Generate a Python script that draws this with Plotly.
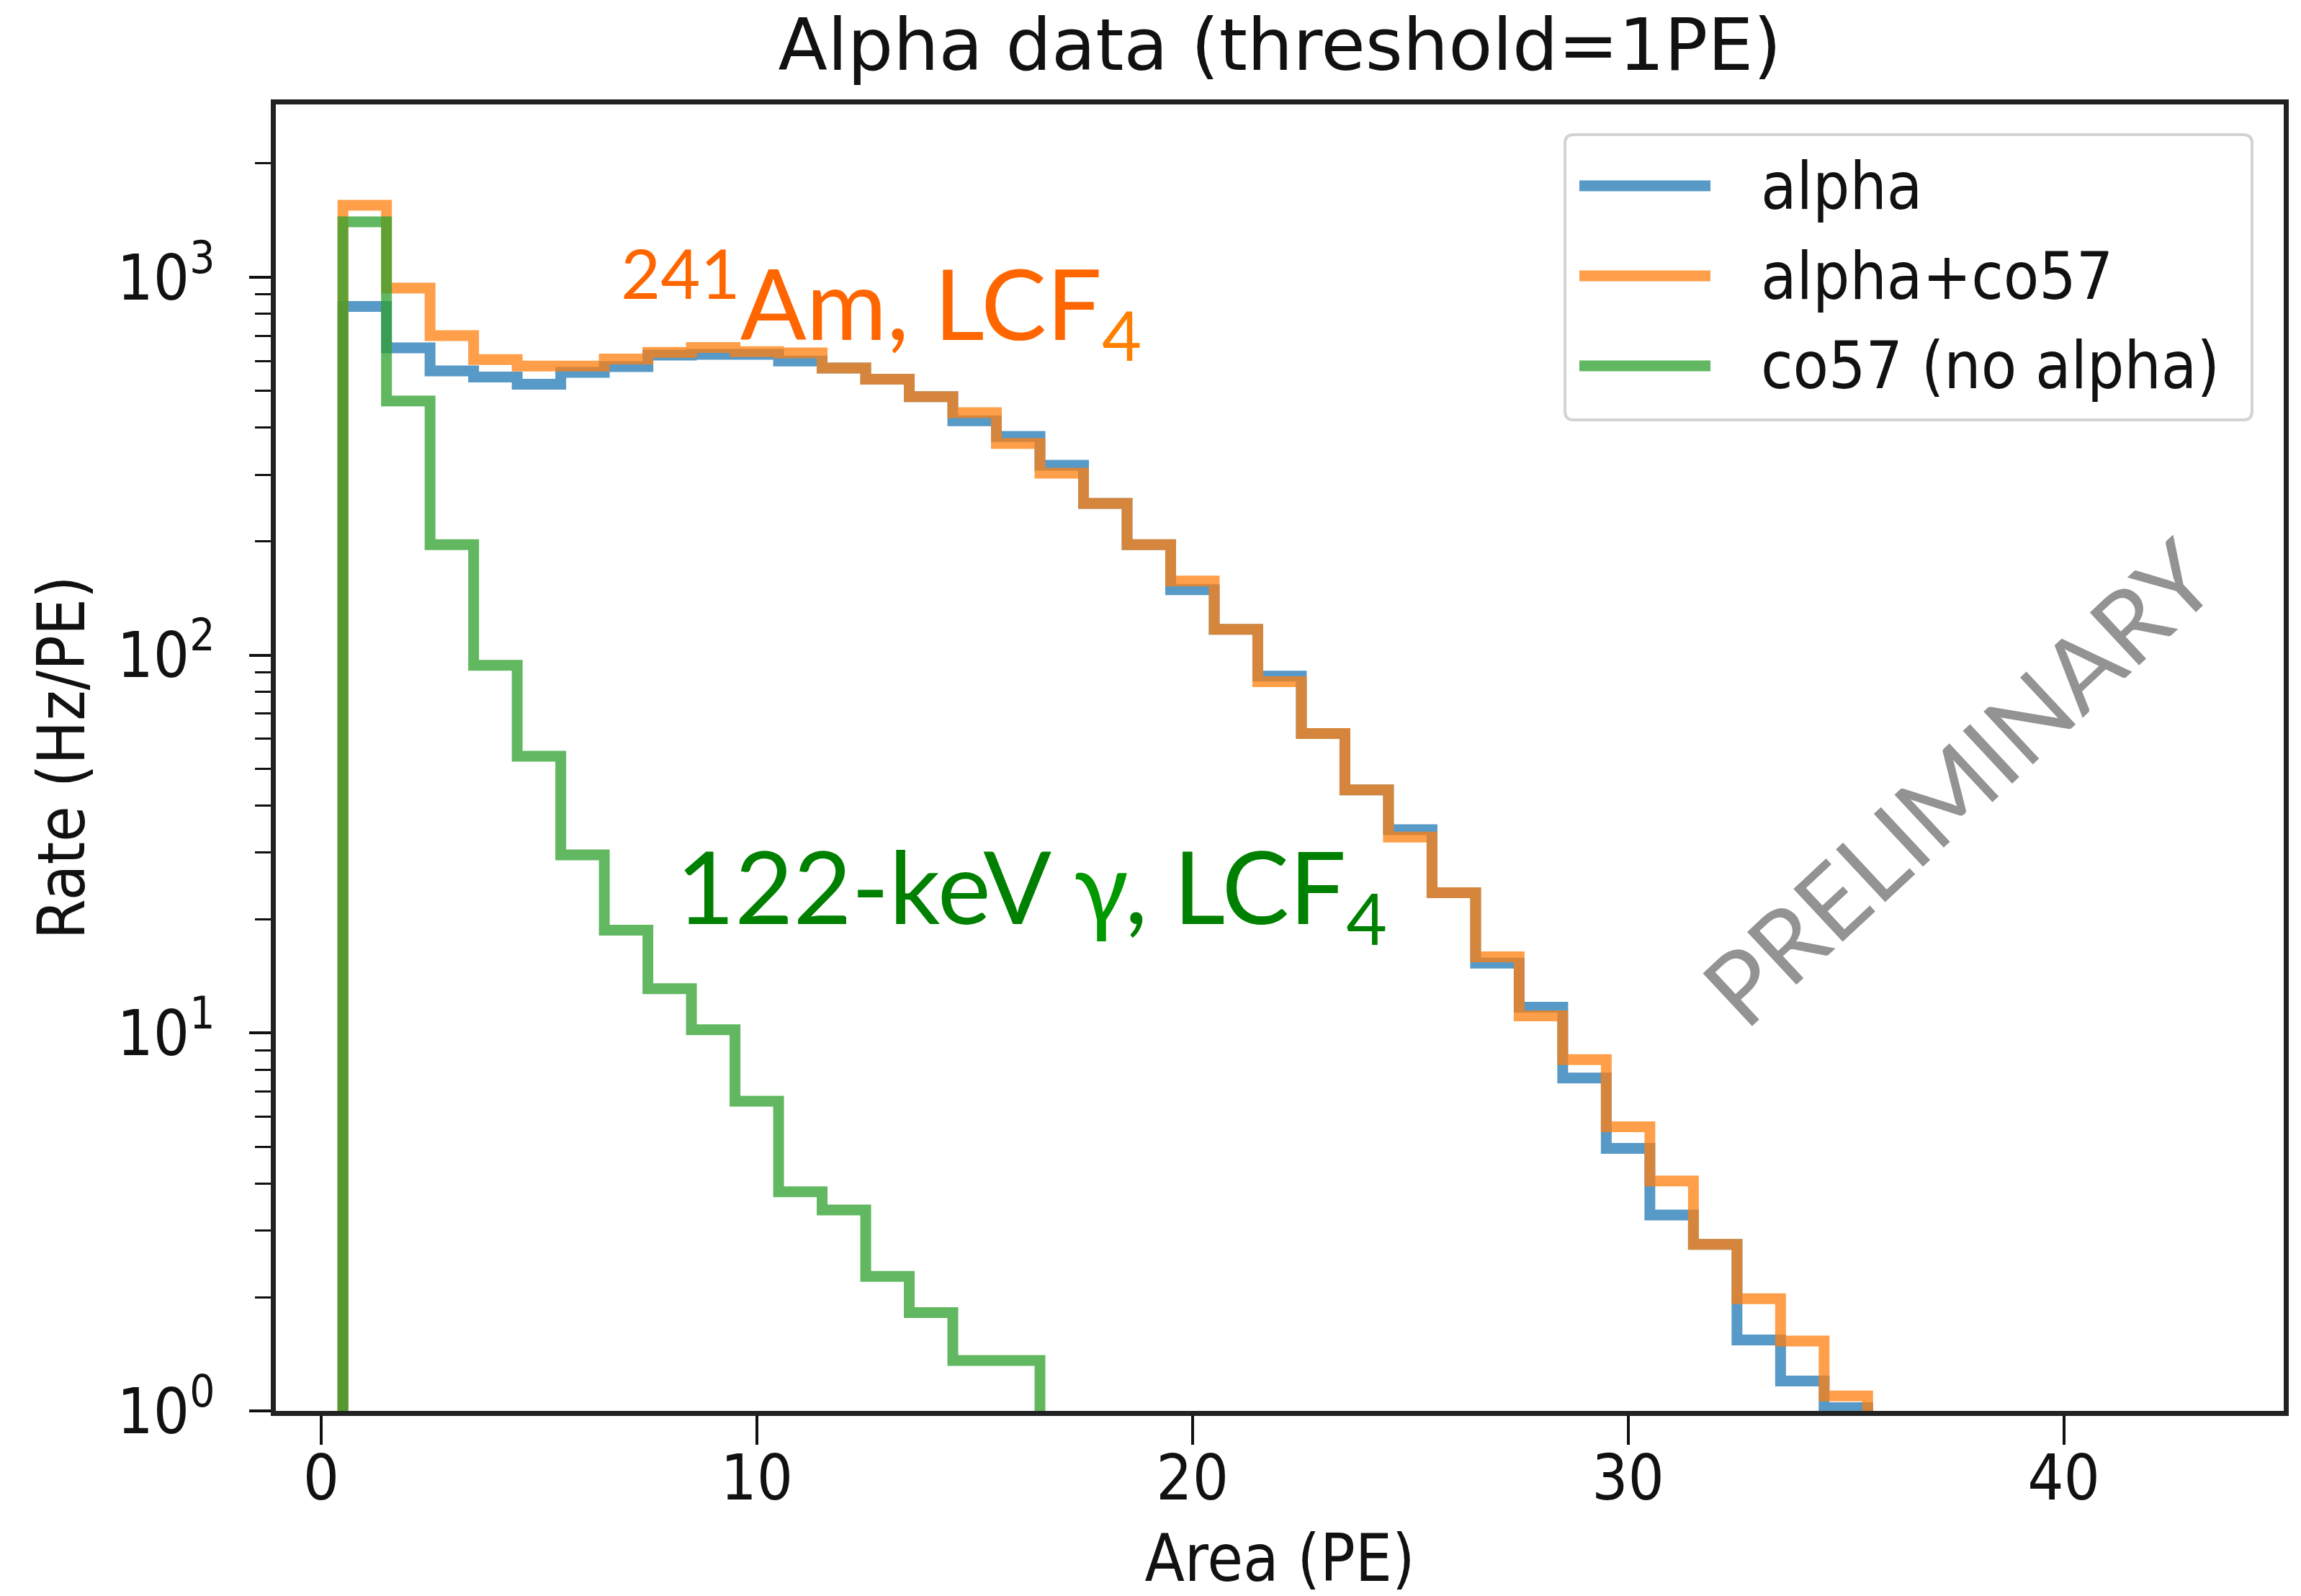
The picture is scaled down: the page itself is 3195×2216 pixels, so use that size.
import plotly.graph_objects as go

# ---------------- data ----------------
BIN_START = 0.5          # first bin edge (PE)
BIN_WIDTH = 1.0          # bin width (PE)

ALPHA = [836, 650, 565, 544, 521, 560, 580, 622, 625, 625, 600, 575, 537, 483,
         417, 379, 318, 252, 196, 149, 117, 88, 62, 44, 34.5, 23.5, 15.3, 11.7,
         7.6, 4.95, 3.30, 2.76, 1.54, 1.20, 1.02]
ALPHA_CO57 = [1550, 935, 700, 605, 582, 582, 607, 632, 651, 635, 630, 575, 537, 483,
              438, 363, 303, 252, 196, 157, 117, 85, 62, 44, 33, 23.5, 15.9, 11.1,
              8.5, 5.65, 4.06, 2.76, 1.98, 1.53, 1.095]
CO57 = [1400, 470, 196, 94, 54, 29.6, 18.7, 13.1, 10.2, 6.6, 3.8, 3.4, 2.27, 1.82,
        1.36, 1.36]

SERIES_NAMES = ["alpha", "alpha+co57", "co57 (no alpha)"]
SERIES_COLORS = ["rgba(31,119,180,0.75)", "rgba(255,127,14,0.75)", "rgba(44,160,44,0.75)"]

X_TICKS = [0, 10, 20, 30, 40]
Y_TICKS = [1, 10, 100, 1000]
Y_TICKTEXT = ["10<sup>0</sup>", "10<sup>1</sup>", "10<sup>2</sup>", "10<sup>3</sup>"]

FLOOR = 0.01  # histogram drops to zero (below the log axis)

# ---------------- geometry ----------------
W, H = 3195, 2216
ML, MR, MT, MB = 383, 24, 145, 257
PW, PH = W - ML - MR, H - MT - MB


def px(xpix):
    return (xpix - ML) / PW


def py(ypix):
    return (H - MB - ypix) / PH


def step_xy(vals):
    edges = [BIN_START + i * BIN_WIDTH for i in range(len(vals) + 1)]
    x = [edges[0]] + edges
    y = [FLOOR] + list(vals) + [FLOOR]
    return x, y


TICK_FONT = "Liberation Sans Narrow, DejaVu Sans Condensed, DejaVu Sans"
LABEL_FONT = "DejaVu Sans Condensed, DejaVu Sans"
CAL_FONT = "Lato, Carlito, Open Sans"

fig = go.Figure()
for name, vals, col in zip(SERIES_NAMES, [ALPHA, ALPHA_CO57, CO57], SERIES_COLORS):
    x, y = step_xy(vals)
    fig.add_trace(go.Scatter(x=x, y=y, mode="lines", name=name,
                             line=dict(color=col, width=15, shape="hv"),
                             showlegend=False, hoverinfo="skip"))

fig.update_layout(
    width=W, height=H,
    margin=dict(l=ML, r=MR, t=MT, b=MB, autoexpand=False),
    plot_bgcolor="white", paper_bgcolor="white",
    showlegend=False,
    title=dict(text="Alpha data (threshold=1PE)", x=0.5, xref="paper", xanchor="center",
               y=1 - 62 / H, yref="container", yanchor="middle",
               font=dict(family="DejaVu Sans", size=100, color="#111")),
    xaxis=dict(range=[-1.04, 45.05], tickmode="array", tickvals=X_TICKS,
               ticks="outside", ticklen=40, tickwidth=4, tickcolor="#111",
               showline=True, linecolor="#222", linewidth=7, mirror=True,
               showgrid=False, zeroline=False, ticklabelstandoff=-30,
               tickfont=dict(family=TICK_FONT, size=88, color="#111"),
               title=dict(text="Area (PE)", standoff=82,
                          font=dict(family=LABEL_FONT, size=90, color="#111"))),
    yaxis=dict(type="log", range=[0, 3.457], tickmode="array", tickvals=Y_TICKS,
               ticktext=Y_TICKTEXT, ticks="outside", ticklen=30, tickwidth=4,
               tickcolor="#111", showline=True, linecolor="#222", linewidth=7,
               mirror=True, showgrid=False, zeroline=False, ticklabelstandoff=30,
               tickfont=dict(family=TICK_FONT, size=88, color="#111"),
               minor=dict(ticks="outside", ticklen=22, tickwidth=3, tickcolor="#111",
                          dtick="D1", showgrid=False),
               title=dict(text="Rate (Hz/PE)", standoff=17,
                          font=dict(family=LABEL_FONT, size=90, color="#111"))),
)

# ---------------- custom legend (matplotlib style) ----------------
bx0, bx1, by0, by1 = px(2173), px(3127), py(583), py(187)
rx, ry = 12 / PW, 12 / PH
legend_path = (f"M {bx0+rx},{by0} L {bx1-rx},{by0} Q {bx1},{by0} {bx1},{by0+ry} "
               f"L {bx1},{by1-ry} Q {bx1},{by1} {bx1-rx},{by1} L {bx0+rx},{by1} "
               f"Q {bx0},{by1} {bx0},{by1-ry} L {bx0},{by0+ry} Q {bx0},{by0} {bx0+rx},{by0} Z")
fig.add_shape(type="path", path=legend_path, xref="paper", yref="paper",
              line=dict(color="#d3d3d3", width=4), fillcolor="rgba(255,255,255,0.8)")
for i, (name, col) in enumerate(zip(SERIES_NAMES, SERIES_COLORS)):
    yy = py(258 + 125 * i)
    fig.add_shape(type="line", xref="paper", yref="paper", x0=px(2193), x1=px(2375),
                  y0=yy, y1=yy, line=dict(color=col, width=15))
    fig.add_annotation(text=name, xref="paper", yref="paper", x=px(2443), y=yy,
                       xanchor="left", yanchor="middle", showarrow=False,
                       font=dict(family=LABEL_FONT, size=90, color="#111"))

# ---------------- overlay texts ----------------
fig.add_annotation(text="<sup>241</sup>Am, LCF<span style='color:#ff8000'><sub>4</sub></span>",
                   xref="paper", yref="paper", x=px(860), y=py(421),
                   xanchor="left", yanchor="middle", showarrow=False,
                   font=dict(family=CAL_FONT, size=136, color="#ff6600"))
fig.add_annotation(text="122-keV <span style='color:#009900'>γ</span>, LCF<sub>4</sub>",
                   xref="paper", yref="paper", x=px(937), y=py(1239),
                   xanchor="left", yanchor="middle", showarrow=False,
                   font=dict(family=CAL_FONT, size=140, color="#008000"))
fig.add_annotation(text="PRELIMINARY", xref="paper", yref="paper",
                   x=px(2718), y=py(1085), xanchor="center", yanchor="middle",
                   textangle=-43, showarrow=False,
                   font=dict(family=CAL_FONT, size=140, color="#939393"))

fig.write_html("out.html", config={"displayModeBar": False},
               post_script="document.body.style.margin='0';document.body.style.overflow='hidden';")
